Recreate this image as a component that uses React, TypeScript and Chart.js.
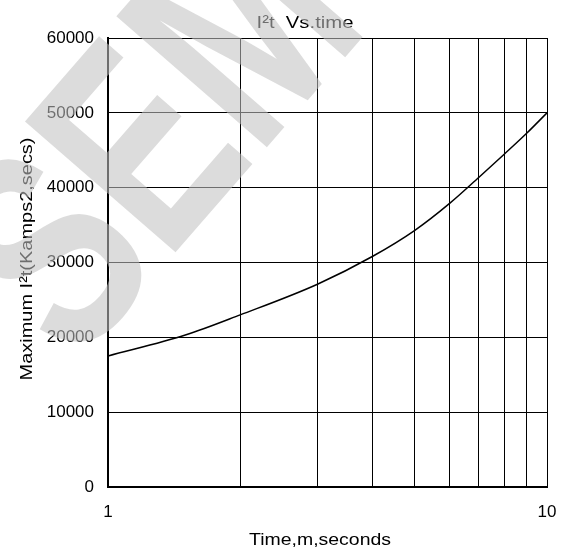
import React, { useEffect, useRef } from 'react';
import { Chart, registerables } from 'chart.js';

Chart.register(...registerables);

// ---- data ----
const timeSeconds = [1, 1.5, 2, 3, 4, 5, 6, 7, 8, 9, 10];
const maxI2t = [17500, 20300, 23000, 27100, 30800, 34300, 37900, 41400, 44500, 47300, 50000];
const xGridValues = [1, 2, 3, 4, 5, 6, 7, 8, 9, 10];
const xLabelledTicks = [1, 10];
const yMin = 0;
const yMax = 60000;
const yStep = 10000;
const titleText = 'I²t  Vs.time';
const xTitleText = 'Time,m,seconds';
const yTitleText = 'Maximum I²t(Kamps2,secs)';
const watermarkText = 'SEM';

const FONT = '"Liberation Sans", Arial, Helvetica, sans-serif';

function fitText(ctx: CanvasRenderingContext2D, text: string, cx: number, cy: number, width: number) {
  const w = ctx.measureText(text).width;
  const sx = width / w;
  ctx.save();
  ctx.translate(cx, cy);
  ctx.scale(sx, 1);
  ctx.textAlign = 'center';
  ctx.textBaseline = 'middle';
  ctx.fillText(text, 0, 0);
  ctx.restore();
}

const overlayPlugin = {
  id: 'overlayText',
  afterDraw(chart: any) {
    const ctx: CanvasRenderingContext2D = chart.ctx;
    ctx.save();
    ctx.fillStyle = '#000';
    ctx.font = `17px ${FONT}`;
    fitText(ctx, titleText, 305, 23, 97);
    fitText(ctx, xTitleText, 320, 540, 142);
    ctx.save();
    ctx.translate(27, 259);
    ctx.rotate(-Math.PI / 2);
    fitText(ctx, yTitleText, 0, 0, 243);
    ctx.restore();

    // watermark on top
    ctx.save();
    ctx.translate(75, 368);
    ctx.rotate((-49 * Math.PI) / 180);
    ctx.scale(0.72, 1);
    ctx.font = `bold 290px ${FONT}`;
    ctx.fillStyle = 'rgba(193,193,193,0.57)';
    ctx.textAlign = 'left';
    ctx.textBaseline = 'alphabetic';
    ctx.fillText(watermarkText, 0, 0);
    ctx.restore();
    ctx.restore();
  },
};

export default function App() {
  const ref = useRef<HTMLCanvasElement | null>(null);

  useEffect(() => {
    if (!ref.current) return;
    const points = timeSeconds.map((t, i) => ({ x: t, y: maxI2t[i] }));
    const chart = new Chart(ref.current, {
      type: 'line',
      data: {
        datasets: [
          {
            data: points,
            borderColor: '#000',
            borderWidth: 1.5,
            pointRadius: 0,
            cubicInterpolationMode: 'monotone',
            fill: false,
          },
        ],
      },
      options: {
        animation: false,
        responsive: true,
        maintainAspectRatio: false,
        layout: { padding: { top: 38, right: 19, left: 0, bottom: 0 } },
        plugins: {
          legend: { display: false },
          title: { display: false },
          tooltip: { enabled: false },
        },
        scales: {
          x: {
            type: 'logarithmic',
            min: 1,
            max: 10,
            afterBuildTicks: (s: any) => {
              s.ticks = xGridValues.map((v) => ({ value: v }));
            },
            afterFit: (s: any) => {
              s.height = 66;
              s.paddingLeft = 0;
              s.paddingRight = 0;
            },
            grid: { color: '#000', lineWidth: 1, drawTicks: false },
            border: { color: '#000', width: 2 },
            ticks: {
              autoSkip: false,
              maxRotation: 0,
              padding: 15,
              color: '#000',
              font: { size: 17, family: FONT },
              callback: (v: any) => (xLabelledTicks.includes(Number(v)) ? String(v) : ''),
            },
          },
          y: {
            type: 'linear',
            min: yMin,
            max: yMax,
            afterFit: (s: any) => {
              s.width = 108;
            },
            grid: { color: '#000', lineWidth: 1, drawTicks: false },
            border: { color: '#000', width: 2 },
            ticks: {
              stepSize: yStep,
              padding: 14,
              color: '#000',
              font: { size: 17, family: FONT },
              callback: (v: any) => String(v),
            },
          },
        },
      },
      plugins: [overlayPlugin],
    });
    return () => chart.destroy();
  }, []);

  return (
    <div style={{ position: 'fixed', left: 0, top: 0, width: 566, height: 553, background: '#fff' }}>
      <canvas ref={ref} />
    </div>
  );
}
